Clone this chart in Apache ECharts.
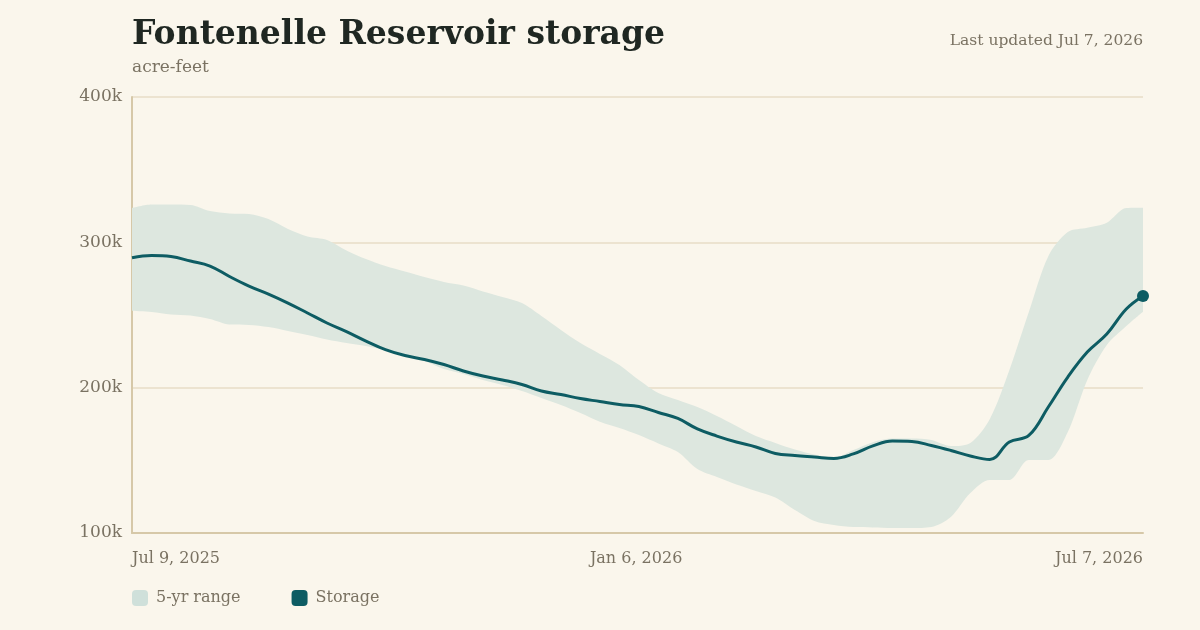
<!DOCTYPE html>
<html>
<head>
<meta charset="utf-8">
<title>Fontenelle Reservoir storage</title>
<script src="https://cdn.jsdelivr.net/npm/echarts@6/dist/echarts.min.js"></script>
<style>
	html, body { margin: 0; padding: 0; background: #faf6ec; }
	#chart-storage { width: 1200px; height: 630px; }
</style>
</head>
<body>
<div id="chart-storage"></div>
<script>
// weekly readings, acre-feet
var dates = [
	'2025-07-09','2025-07-16','2025-07-23','2025-07-30','2025-08-06','2025-08-13','2025-08-20','2025-08-27',
	'2025-09-03','2025-09-10','2025-09-17','2025-09-24','2025-10-01','2025-10-08','2025-10-15','2025-10-22',
	'2025-10-29','2025-11-05','2025-11-12','2025-11-19','2025-11-26','2025-12-03','2025-12-10','2025-12-17',
	'2025-12-24','2025-12-31','2026-01-07','2026-01-14','2026-01-21','2026-01-28','2026-02-04','2026-02-11',
	'2026-02-18','2026-02-25','2026-03-04','2026-03-11','2026-03-18','2026-03-25','2026-04-01','2026-04-08',
	'2026-04-15','2026-04-22','2026-04-29','2026-05-06','2026-05-13','2026-05-20','2026-05-27','2026-06-03',
	'2026-06-10','2026-06-17','2026-06-24','2026-07-01','2026-07-07'
];
var storage = [
	289.4, 290.9, 290.2, 287.1, 283.7, 276.5, 269.9, 264.4,
	258.2, 251.4, 244.5, 238.6, 232.1, 226.2, 222.1, 219.4,
	215.9, 211.5, 208.0, 205.3, 202.2, 197.7, 195.3, 192.5,
	190.5, 188.4, 187.0, 182.9, 178.8, 171.6, 166.7, 162.6,
	159.2, 154.7, 153.3, 152.3, 151.3, 154.4, 159.9, 163.3,
	163.0, 160.2, 156.8, 153.0, 150.6, 162.6, 167.1, 186.7,
	207.3, 224.5, 236.9, 254.1, 263.1
];
var rangeHigh = [
	323.6, 326.0, 326.0, 325.7, 321.5, 319.8, 319.5, 316.0,
	309.2, 304.0, 301.6, 294.4, 288.5, 283.7, 279.9, 276.1,
	272.7, 270.3, 266.2, 262.4, 258.2, 249.3, 239.7, 230.7,
	223.2, 215.6, 205.3, 196.3, 191.5, 186.7, 180.5, 173.6,
	166.7, 161.9, 157.4, 154.0, 151.9, 157.1, 162.5, 165.0,
	165.0, 164.0, 159.9, 162.0, 178.5, 212.0, 252.0, 290.5,
	307.1, 310.0, 313.5, 323.6, 323.8
];
var rangeLow = [
	252.9, 252.0, 250.3, 249.6, 247.2, 243.4, 243.1, 241.7,
	239.0, 236.2, 233.1, 230.7, 228.7, 225.9, 222.5, 218.3,
	212.8, 209.4, 205.3, 201.8, 197.7, 192.9, 188.1, 182.6,
	176.6, 172.2, 167.4, 161.6, 155.7, 144.0, 138.5, 133.4,
	128.9, 124.4, 115.8, 108.3, 105.5, 104.1, 103.8, 103.4,
	103.4, 104.1, 111.0, 127.5, 136.5, 136.5, 150.2, 150.2,
	169.5, 205.3, 229.3, 242.4, 252.3
];
var xTickDates = ['2025-07-09', '2026-01-06', '2026-07-07'];
var yTicks = [100000, 200000, 300000, 400000];

var monthNames = ['Jan','Feb','Mar','Apr','May','Jun','Jul','Aug','Sep','Oct','Nov','Dec'];
function toTime(s) {
	var p = s.split('-');
	return new Date(+p[0], +p[1] - 1, +p[2]).getTime();
}
function fmtDate(t) {
	var d = new Date(t);
	return monthNames[d.getMonth()] + ' ' + d.getDate() + ', ' + d.getFullYear();
}

function generateChartStorage() {
	var font = '"DejaVu Serif", "Liberation Serif", serif';
	var textColor = '#7a7262';
	var lowData = [], spanData = [], lineData = [];
	for (var i = 0; i < dates.length; i++) {
		var t = toTime(dates[i]);
		lowData.push([t, rangeLow[i] * 1000]);
		spanData.push([t, (rangeHigh[i] - rangeLow[i]) * 1000]);
		lineData.push([t, storage[i] * 1000]);
	}
	var last = lineData[lineData.length - 1];
	var xMin = toTime(xTickDates[0]);
	var xMax = toTime(xTickDates[xTickDates.length - 1]);
	var chart = echarts.init(document.getElementById('chart-storage'));
	var option = {
		backgroundColor: '#faf6ec',
		animation: false,
		textStyle: { fontFamily: font },
		title: [
			{
				text: 'Fontenelle Reservoir storage',
				subtext: 'acre-feet',
				left: 127,
				top: 14,
				itemGap: 7,
				textStyle: { fontFamily: font, fontSize: 33, fontWeight: 'bold', color: '#1f2722' },
				subtextStyle: { fontFamily: font, fontSize: 17, color: textColor }
			},
			{
				text: 'Last updated ' + fmtDate(last[0]),
				right: 52,
				top: 28,
				textStyle: { fontFamily: font, fontSize: 15.5, fontWeight: 'normal', color: textColor }
			}
		],
		legend: {
			left: 127,
			top: 585,
			itemWidth: 16,
			itemHeight: 16,
			itemGap: 51,
			icon: 'roundRect',
			data: ['5-yr range', 'Storage'],
			textStyle: { fontFamily: font, fontSize: 16, color: textColor, padding: [0, 0, 0, 3] }
		},
		grid: { left: 132, right: 57, top: 97, bottom: 97 },
		xAxis: [
			{
				// label axis: three fixed dates
				type: 'value',
				min: xMin,
				max: xMax,
				axisLine: { lineStyle: { color: '#d6c8a8', width: 2 } },
				axisTick: { show: false },
				splitLine: { show: false },
				axisLabel: {
					customValues: xTickDates.map(toTime),
					formatter: function (v) { return fmtDate(v); },
					alignMinLabel: 'left',
					alignMaxLabel: 'right',
					margin: 18,
					fontFamily: font,
					fontSize: 16,
					color: textColor
				}
			},
			{
				// data axis, hidden, same span
				type: 'time',
				min: xMin,
				max: xMax,
				show: false
			}
		],
		yAxis: {
			type: 'value',
			min: yTicks[0],
			max: yTicks[yTicks.length - 1],
			interval: 100000,
			axisLine: { show: true, lineStyle: { color: '#d6c8a8', width: 2 } },
			axisTick: { show: false },
			splitLine: { lineStyle: { color: '#ece3d0', width: 2 } },
			axisLabel: {
				formatter: function (v) { return (v / 1000) + 'k'; },
				margin: 10,
				fontFamily: font,
				fontSize: 17,
				color: textColor
			}
		},
		series: [
			{
				name: 'range-low',
				type: 'line',
				xAxisIndex: 1,
				stack: 'band',
				data: lowData,
				smooth: 0.3,
				showSymbol: false,
				silent: true,
				lineStyle: { opacity: 0 },
				itemStyle: { opacity: 0 }
			},
			{
				name: '5-yr range',
				type: 'line',
				xAxisIndex: 1,
				stack: 'band',
				data: spanData,
				smooth: 0.3,
				showSymbol: false,
				silent: true,
				lineStyle: { opacity: 0 },
				itemStyle: { color: '#cfe0da' },
				areaStyle: { color: '#dde7df', opacity: 1 }
			},
			{
				name: 'Storage',
				type: 'line',
				xAxisIndex: 1,
				data: lineData,
				smooth: 0.4,
				showSymbol: false,
				itemStyle: { color: '#0d5c63' },
				lineStyle: { color: '#0d5c63', width: 3 },
				z: 5
			},
			{
				name: 'latest',
				type: 'scatter',
				xAxisIndex: 1,
				data: [last],
				symbolSize: 12,
				itemStyle: { color: '#0d5c63', opacity: 1 },
				z: 6
			}
		]
	};
	chart.setOption(option);
}

generateChartStorage();
</script>
</body>
</html>
